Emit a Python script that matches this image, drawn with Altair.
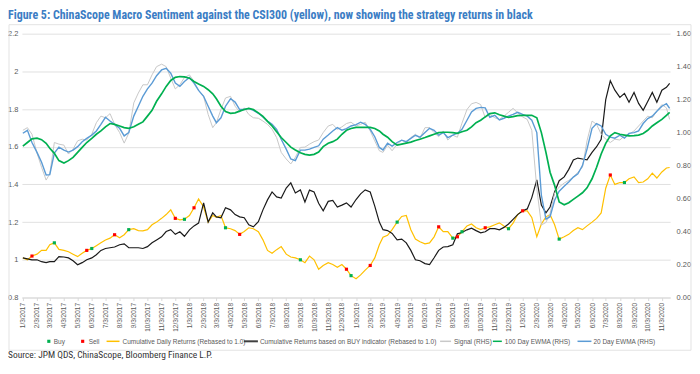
import altair as alt
import pandas as pd

# ---- sampling dates: 3rd, 13th, 23rd of each month (last point 20 Nov 2020)
MONTHS = [(y, m) for y in range(2017, 2021) for m in range(1, 13) if not (y == 2020 and m == 12)]
dates = []
for y, m in MONTHS:
    for d in (3, 13, 23):
        if (y, m, d) == (2020, 11, 23):
            d = 20
        dates.append(f"{y}-{m:02d}-{d:02d}")

# ---- left axis series (rebased to 1.0)
cum_daily = [
    1.01, 1.00, 1.02,   1.03, 1.05, 1.05,   1.08, 1.09, 1.055,  1.05, 1.043, 1.03,
    1.017, 1.035, 1.05, 1.06, 1.075, 1.09,  1.105, 1.115, 1.133, 1.117, 1.133, 1.16,
    1.165, 1.155, 1.154, 1.16, 1.186, 1.2,  1.22, 1.24, 1.265,  1.22, 1.212, 1.215,
    1.235, 1.276, 1.323, 1.28, 1.2, 1.235,  1.225, 1.235, 1.17, 1.165, 1.155, 1.135,
    1.15, 1.17, 1.165,  1.149, 1.106, 1.05, 1.035, 1.054, 1.07, 1.03, 1.015, 1.01,
    1.0, 0.985, 1.02,   1.0, 0.95, 0.97,    0.985, 0.975, 0.96, 0.975, 0.95, 0.916,
    0.90, 0.92, 0.945,  0.97, 1.01, 1.08,   1.12, 1.13, 1.16,   1.2, 1.23, 1.235,
    1.16, 1.11, 1.096,  1.085, 1.09, 1.122, 1.175, 1.15, 1.15,  1.115, 1.122, 1.149,
    1.18, 1.19, 1.17,   1.16, 1.17, 1.175,  1.186, 1.196, 1.18, 1.165, 1.195, 1.24,
    1.26, 1.26, 1.225,  1.122, 1.19, 1.228, 1.24, 1.186, 1.11,  1.122, 1.135, 1.155,
    1.17, 1.16, 1.18,   1.2, 1.22, 1.249,   1.38, 1.45, 1.40,   1.41, 1.41, 1.43,
    1.44, 1.41, 1.413,  1.43, 1.46, 1.434,  1.466, 1.487, 1.49,
]
cum_buy = [
    1.01, 1.005, 1.0,   1.0, 0.99, 0.985,   0.99, 0.99, 1.017,  1.015, 1.01, 0.995,
    0.974, 0.985, 1.0,  1.01, 1.027, 1.05,  1.06, 1.064, 1.068, 1.08, 1.085, 1.064,
    1.064, 1.064, 1.06, 1.07, 1.09, 1.105,  1.122, 1.15, 1.16,  1.135, 1.149, 1.125,
    1.159, 1.18, 1.195, 1.302, 1.2, 1.249,  1.228, 1.223, 1.276, 1.265, 1.24, 1.228,
    1.223, 1.186, 1.175, 1.202, 1.265, 1.318, 1.36, 1.334, 1.328, 1.381, 1.408, 1.355,
    1.371, 1.307, 1.37, 1.36, 1.3, 1.26,    1.31, 1.315, 1.28,  1.29, 1.302, 1.28,
    1.32, 1.35, 1.371,  1.36, 1.285, 1.2,   1.16, 1.155, 1.14,  1.106, 1.11, 1.09,
    1.05, 1.0, 0.995,   0.98, 0.975, 1.011, 1.05, 1.068, 1.07,  1.08, 1.138, 1.145,
    1.159, 1.168, 1.155, 1.143, 1.149, 1.165, 1.165, 1.159, 1.172, 1.19, 1.215, 1.24,
    1.26, 1.27, 1.33,   1.424, 1.29, 1.249, 1.28, 1.36, 1.42,   1.44, 1.48, 1.53,
    1.54, 1.535, 1.53,  1.57, 1.6, 1.64,    1.85, 1.95, 1.9,    1.862, 1.883, 1.836,
    1.888, 1.83, 1.793, 1.84, 1.888, 1.836, 1.9, 1.915, 1.936,
]

# ---- right axis series
signal = [
    1.014, 1.03, 0.99,  0.876, 0.79, 0.712, 0.75, 0.94, 0.93,   0.924, 0.87, 0.9,
    0.95, 0.96, 0.955,  0.99, 1.06, 1.1,    1.09, 1.115, 1.05,  1.0, 0.936, 0.996,
    1.18, 1.24, 1.29,   1.29, 1.35, 1.40,   1.415, 1.40, 1.33,  1.265, 1.29, 1.334,
    1.35, 1.31, 1.256,  1.22, 1.11, 1.03,   1.06, 1.14, 1.21,   1.22, 1.16, 1.125,
    1.15, 1.11, 1.09,   1.087, 1.07, 1.05,  1.02, 0.97, 0.88,   0.84, 0.81, 0.85,
    0.91, 0.912, 0.93,  0.945, 0.955, 1.0,  1.04, 1.05, 1.02,   1.035, 1.055, 1.063,
    1.04, 1.05, 1.063,  1.01, 0.95, 0.89,   0.88, 0.924, 0.89,  0.93, 0.954, 0.94,
    0.97, 0.99, 0.965,  1.03, 1.03, 1.0,    0.975, 1.01, 0.955, 0.984, 0.972, 1.057,
    1.14, 1.175, 1.183, 1.17, 1.09, 1.11,   1.09, 1.08, 1.1,    1.123, 1.147, 1.12,
    1.095, 1.08, 1.014, 0.66, 0.44, 0.455,  0.51, 0.634, 0.67,  0.694, 0.71, 0.73,
    0.76, 0.79, 0.95,   1.07, 1.05, 0.99,   0.96, 0.94, 0.96,   0.955, 0.98, 0.99,
    1.01, 1.04, 1.07,   1.1, 1.09, 1.13,    1.17, 1.15, 1.08,
]
ewma_short = [
    0.996, 1.014, 0.94, 0.88, 0.82, 0.743,  0.745, 0.876, 0.912, 0.894, 0.882, 0.894,
    0.915, 0.945, 0.965, 0.985, 1.01, 1.05, 1.093, 1.07, 1.05,  1.026, 0.98, 1.0,
    1.1, 1.16, 1.22,    1.265, 1.3, 1.345,  1.38, 1.39, 1.36,   1.30, 1.28, 1.31,
    1.334, 1.30, 1.256, 1.22, 1.16, 1.10,   1.06, 1.09, 1.16,   1.205, 1.185, 1.14,
    1.14, 1.147, 1.135, 1.117, 1.095, 1.07, 1.05, 1.02, 0.96,   0.90, 0.84, 0.83,
    0.894, 0.894, 0.90, 0.91, 0.92, 0.96,   0.985, 1.01, 1.03,  1.015, 1.024, 1.04,
    1.048, 1.063, 1.05, 1.02, 0.975, 0.91,  0.895, 0.936, 0.918, 0.94, 0.954, 0.945,
    0.965, 0.984, 0.972, 1.0, 1.026, 1.014, 0.984, 1.0, 0.97,   0.985, 0.996, 1.02,
    1.075, 1.125, 1.147, 1.153, 1.15, 1.093, 1.105, 1.077, 1.087, 1.1, 1.11, 1.123,
    1.11, 1.1, 1.075,   1.0, 0.62, 0.475,   0.49, 0.59, 0.645,  0.675, 0.70, 0.73,
    0.75, 0.80, 0.90,   1.026, 1.055, 1.04, 0.99, 0.972, 0.966, 0.984, 0.966, 0.995,
    1.0, 1.01, 1.055,   1.085, 1.10, 1.13,  1.16, 1.175, 1.147,
]
ewma_long = [
    0.918, 0.94, 0.962, 0.966, 0.957, 0.935, 0.905, 0.874, 0.83, 0.815, 0.83, 0.85,
    0.88, 0.91, 0.94,   0.965, 0.99, 1.01,  1.035, 1.055, 1.05, 1.04, 1.03, 1.026,
    1.035, 1.05, 1.065, 1.10, 1.135, 1.19,  1.235, 1.28, 1.316, 1.335, 1.34, 1.338,
    1.33, 1.31, 1.295,  1.28, 1.26, 1.235,  1.205, 1.16, 1.128, 1.117, 1.12, 1.13,
    1.14, 1.147, 1.14,  1.12, 1.098, 1.068, 1.04, 1.005, 0.97,  0.94, 0.912, 0.895,
    0.878, 0.868, 0.863, 0.868, 0.882, 0.915, 0.935, 0.945, 0.96, 0.99, 1.014, 1.025,
    1.032, 1.032, 1.032, 1.032, 1.025, 1.01, 0.99, 0.972, 0.945, 0.924, 0.93, 0.936,
    0.942, 0.952, 0.96, 0.97, 0.98, 0.99,   1.0, 1.002, 1.002,  1.0, 0.996, 1.005,
    1.014, 1.035, 1.06, 1.075, 1.095, 1.115, 1.12, 1.108, 1.1,  1.093, 1.097, 1.103,
    1.105, 1.105, 1.105, 1.09, 1.0, 0.88,   0.76, 0.68, 0.58,   0.562, 0.575, 0.595,
    0.615, 0.635, 0.665, 0.72, 0.79, 0.87,  0.935, 0.98, 1.0,   0.99, 0.985, 0.98,
    0.982, 0.985, 0.995, 1.014, 1.04, 1.06, 1.08, 1.105, 1.123,
]

# ---- Buy / Sell signal dates (marked on the cumulative daily returns line)
buy_dates = ["2017-03-13", "2017-06-03", "2017-08-23", "2017-12-23", "2018-03-23",
             "2018-09-03", "2018-12-23", "2019-04-03", "2019-08-03", "2019-08-23",
             "2019-12-03", "2020-03-23", "2020-08-13"]
sell_dates = ["2017-01-23", "2017-05-23", "2017-07-23", "2017-12-03", "2018-01-13",
              "2018-04-23", "2018-12-13", "2019-02-03", "2019-07-03", "2019-08-13",
              "2019-10-13", "2020-01-03", "2020-07-13"]

TITLE = "Figure 5: ChinaScope Macro Sentiment against the CSI300 (yellow), now showing the strategy returns in black"
SOURCE = "Source: JPM QDS, ChinaScope, Bloomberg Finance L.P."
LEFT_TICKS = [0.8, 1, 1.2, 1.4, 1.6, 1.8, 2, 2.2]
RIGHT_TICKS = [0, 0.2, 0.4, 0.6, 0.8, 1.0, 1.2, 1.4, 1.6]

# ---- styling
FONT = "Liberation Sans"
NARROW = "Liberation Sans Narrow, Arial Narrow, Roboto Condensed, Liberation Sans, sans-serif"
C_YELLOW, C_BLACK, C_GRAY, C_BLUE, C_GREEN = "#FFC000", "#1a1a1a", "#c8c8c8", "#5B9BD5", "#00B050"
C_BUY, C_SELL = "#00B050", "#FF0000"
LBL = "#595959"

df = pd.DataFrame({"date": dates, "daily": cum_daily, "buy": cum_buy,
                   "signal": signal, "short": ewma_short, "long": ewma_long})
buy_df = df[df["date"].isin(buy_dates)][["date", "daily"]]
sell_df = df[df["date"].isin(sell_dates)][["date", "daily"]]

tick_values = [alt.DateTime(year=y, month=m, date=3, utc=True) for y, m in MONTHS]
x_enc = alt.X(
    "date:T",
    scale=alt.Scale(type="utc", domain=[alt.DateTime(year=2017, month=1, date=1, utc=True),
                                        alt.DateTime(year=2020, month=11, date=21, utc=True)]),
    axis=alt.Axis(values=tick_values, format="%-m/%-d/%Y", labelAngle=270, labelFontSize=6.5,
                  labelFont=FONT, labelColor=LBL, tickColor="#d9d9d9", tickSize=3,
                  domainColor="#d9d9d9", grid=False, title=None, labelPadding=2),
)


def y_left(field):
    return alt.Y(f"{field}:Q",
                 scale=alt.Scale(domain=[0.8, 2.2], nice=False, zero=False),
                 axis=alt.Axis(values=LEFT_TICKS, format="~g", orient="left", grid=True,
                               gridColor="#d9d9d9", gridWidth=0.8, domain=False, ticks=False,
                               labelFontSize=7.5, labelFont=FONT, labelColor=LBL,
                               labelPadding=4, title=None))


def y_right(field):
    return alt.Y(f"{field}:Q",
                 scale=alt.Scale(domain=[0, 1.6], nice=False, zero=False),
                 axis=alt.Axis(values=RIGHT_TICKS, format=".2f", orient="right", grid=False,
                               domain=False, ticks=False, labelFontSize=7.5, labelFont=FONT,
                               labelColor=LBL, labelPadding=6, title=None))


base = alt.Chart(df)
left = alt.layer(
    base.mark_line(color=C_YELLOW, strokeWidth=1.2).encode(x=x_enc, y=y_left("daily")),
    base.mark_line(color=C_BLACK, strokeWidth=1.2).encode(x=x_enc, y=y_left("buy")),
    alt.Chart(buy_df).mark_square(color=C_BUY, size=10, opacity=1).encode(x=x_enc, y=y_left("daily")),
    alt.Chart(sell_df).mark_square(color=C_SELL, size=10, opacity=1).encode(x=x_enc, y=y_left("daily")),
)
right = alt.layer(
    base.mark_line(color=C_GRAY, strokeWidth=1).encode(x=x_enc, y=y_right("signal")),
    base.mark_line(color=C_BLUE, strokeWidth=1.4).encode(x=x_enc, y=y_right("short")),
    base.mark_line(color=C_GREEN, strokeWidth=1.7).encode(x=x_enc, y=y_right("long")),
)

one = pd.DataFrame({"k": [0]})


def txt(s, x, y, size, color, font=FONT, bold=False):
    return alt.Chart(one).mark_text(align="left", baseline="alphabetic", fontSize=size, font=font,
                                    color=color, fontWeight="bold" if bold else "normal").encode(
        x=alt.value(x), y=alt.value(y), text=alt.value(s))


def leg_line(x1, x2, color, w):
    return alt.Chart(one).mark_rule(color=color, strokeWidth=w).encode(
        x=alt.value(x1), x2=alt.value(x2), y=alt.value(309))


def leg_dot(x, color):
    return alt.Chart(one).mark_square(color=color, size=10, opacity=1).encode(
        x=alt.value(x), y=alt.value(309))


LY = 311.5
decor = [
    alt.Chart(one).mark_rect(filled=False, stroke="#e3e3e3", strokeWidth=1).encode(
        x=alt.value(-13), x2=alt.value(672), y=alt.value(-9), y2=alt.value(318)),
    txt(TITLE, -14, -15, 12, "#3b7dc4", font=NARROW, bold=True),
    txt(SOURCE, -14, 326, 9.5, "#333333", font=NARROW),
    leg_dot(27, C_BUY), txt("Buy", 32, LY, 6.5, LBL),
    leg_dot(61, C_SELL), txt("Sell", 67, LY, 6.5, LBL),
    leg_line(85, 98, C_YELLOW, 1.5), txt("Cumulative Daily Returns (Rebased to 1.0)", 101, LY, 6.5, LBL),
    leg_line(223, 237, "#404040", 2), txt("Cumulative Returns based on BUY indicator (Rebased to 1.0)", 239, LY, 6.5, LBL),
    leg_line(420, 431, C_GRAY, 1.5), txt("Signal (RHS)", 434, LY, 6.5, LBL),
    leg_line(473, 482, C_GREEN, 1.5), txt("100 Day EWMA (RHS)", 485, LY, 6.5, LBL),
    leg_line(558, 572, C_BLUE, 1.5), txt("20 Day EWMA (RHS)", 574, LY, 6.5, LBL),
]

chart = alt.layer(left, right, *decor).resolve_scale(y="independent").properties(
    width=651, height=265,
    padding={"left": 14, "top": 25, "right": 22, "bottom": 62},
    autosize=alt.AutoSizeParams(type="none"),
).configure_view(stroke=None)

chart.save("out.html", embed_options={"renderer": "svg", "actions": False})
